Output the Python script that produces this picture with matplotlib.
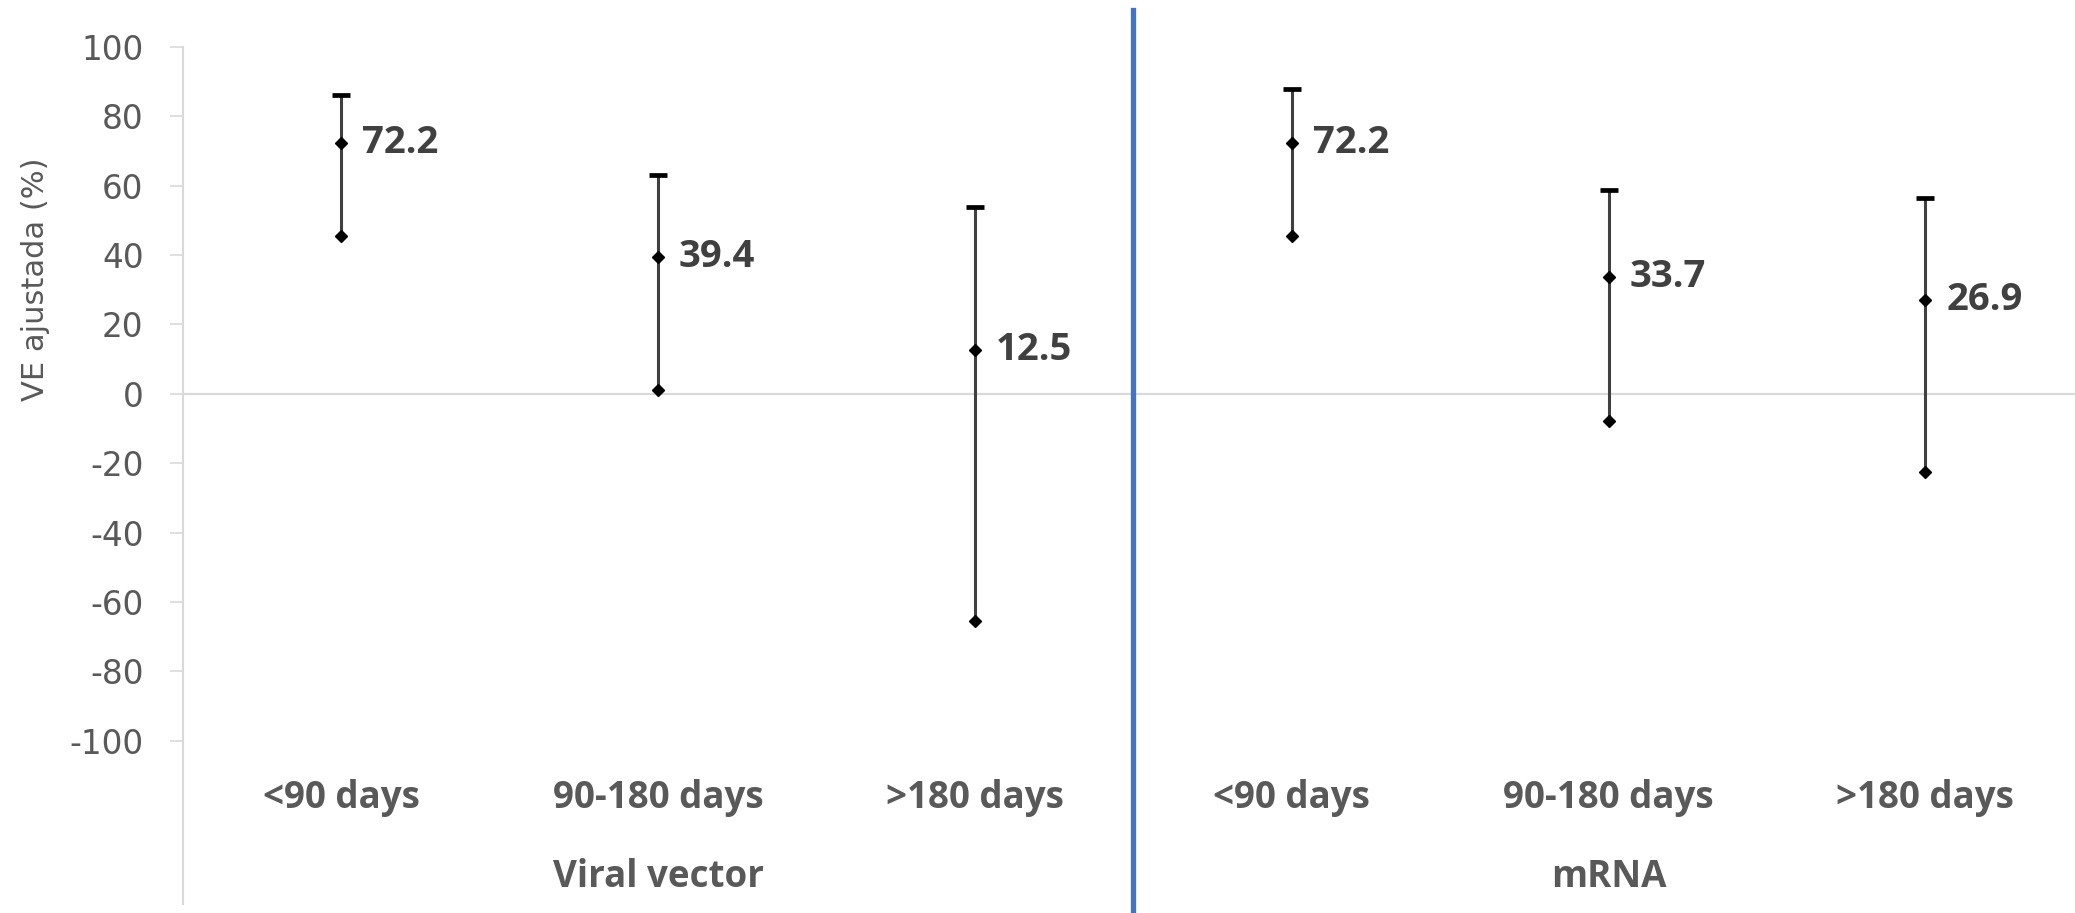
import matplotlib
matplotlib.use("Agg")
import matplotlib.pyplot as plt

# Vaccine effectiveness estimates with 95% CI, by vaccine platform and time since dose
groups = ["Viral vector", "mRNA"]
periods = ["<90 days", "90-180 days", ">180 days"]
ve_point = [72.2, 39.4, 12.5, 72.2, 33.7, 26.9]
ve_lower = [45.4, 1.0, -65.5, 45.4, -7.9, -22.6]
ve_upper = [86.2, 63.0, 53.8, 87.7, 58.8, 56.5]
y_ticks = [100, 80, 60, 40, 20, 0, -20, -40, -60, -80, -100]

W, H = 2075, 913
fig = plt.figure(figsize=(W / 100, H / 100), dpi=100)
fig.patch.set_facecolor("white")

left_px, top_px, bottom_px = 183, 46.8, 904
cat_w_px = 316.8
n = len(ve_point)
ax = fig.add_axes([left_px / W, (H - bottom_px) / H,
                   n * cat_w_px / W, (bottom_px - top_px) / H])
ax.set_xlim(0, n)
ax.set_ylim(-147, 100)

for s in ["top", "right", "bottom"]:
    ax.spines[s].set_visible(False)
ax.spines["left"].set_color("#d9d9d9")
ax.spines["left"].set_linewidth(1.5)

ax.set_yticks(y_ticks)
ax.set_yticklabels([str(v) for v in y_ticks], family="DejaVu Sans")
ax.tick_params(axis="y", direction="out", length=9.4, width=1.2,
               color="#d9d9d9", labelcolor="#595959", labelsize=23.5, pad=19)
ax.set_xticks([])

# zero reference line
ax.axhline(0, color="#d9d9d9", linewidth=1.6, zorder=1)

label_font = ["Open Sans", "DejaVu Sans"]

# high-low lines with markers
xs = [i + 0.5 for i in range(n)]
for x, lo, hi, pt in zip(xs, ve_lower, ve_upper, ve_point):
    ax.plot([x, x], [lo, hi], color="#404040", linewidth=2.2, zorder=2,
            solid_capstyle="butt")
    ax.plot([x], [hi], marker="_", markersize=13.5, markeredgewidth=3.4,
            color="black", zorder=3)
    ax.plot([x, x], [lo, pt], linestyle="none", marker="D", markersize=6,
            color="black", zorder=3)
    ax.annotate(f"{pt:.1f}", xy=(x, pt), xytext=(15, 0),
                textcoords="offset points", ha="left", va="center",
                fontsize=27.5, fontweight="bold", color="#404040",
                family=label_font)

# category and group labels
for i, x in enumerate(xs):
    ax.text(x, -116.4, periods[i % len(periods)], ha="center", va="center",
            fontsize=26.5, fontweight="bold", color="#595959",
            family=label_font)
for g, name in enumerate(groups):
    ax.text(g * 3 + 1.5, -139.1, name, ha="center", va="center",
            fontsize=26.5, fontweight="bold", color="#595959",
            family=label_font)

# separator between vaccine platforms
ax.axvline(3, ymin=-0.04, ymax=1.043, color="#4472C4", linewidth=3.8,
           clip_on=False, zorder=4)

fig.text(36 / W, 1 - 279 / H, "VE ajustada (%)", rotation=90,
         ha="center", va="center", fontsize=22, color="#595959",
         family=["Liberation Sans Narrow", "DejaVu Sans"])

fig.savefig("out.png", dpi=100, facecolor="white")
